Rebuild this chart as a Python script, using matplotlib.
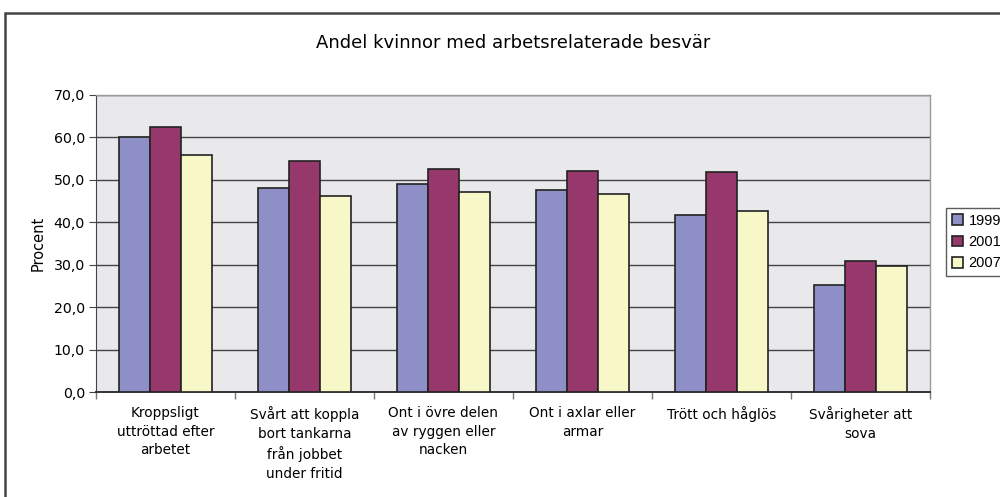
"""
Grouped bars: share of women with work-related complaints, 1999/2001/2007.
"""

import matplotlib.pyplot as plt
import numpy as np
from matplotlib.patches import Rectangle
from matplotlib.ticker import FuncFormatter, MultipleLocator

plt.rcParams["font.family"] = ["DejaVu Sans"]

CATEGORIES = [
    "Kroppsligt\nuttröttad efter\narbetet",
    "Svårt att koppla\nbort tankarna\nfrån jobbet\nunder fritid",
    "Ont i övre delen\nav ryggen eller\nnacken",
    "Ont i axlar eller\narmar",
    "Trött och håglös",
    "Svårigheter att\nsova",
]
YEARS = ["1999", "2001", "2007"]
VALUES_1999 = [60.0, 48.0, 49.0, 47.6, 41.8, 25.2]
VALUES_2001 = [62.4, 54.5, 52.5, 52.1, 51.8, 31.0]
VALUES_2007 = [55.8, 46.2, 47.1, 46.7, 42.7, 29.7]
COLORS = ["#8F8FC7", "#96386B", "#F8F7C8"]


def main() -> None:
    fig = plt.figure(figsize=(10, 4.97), dpi=100)
    ax = fig.add_axes([0.096, 0.211, 0.834, 0.598])

    # outer chart frame, cut off on right and bottom like the source
    fig.patches.append(
        Rectangle((0.005, -0.1), 1.2, 0.1 + 0.974, transform=fig.transFigure,
                  fill=False, edgecolor="#444444", linewidth=1.8)
    )

    x = np.arange(len(CATEGORIES))
    width = 1 / 4.5
    series = [VALUES_1999, VALUES_2001, VALUES_2007]
    for i, (vals, col, yr) in enumerate(zip(series, COLORS, YEARS)):
        ax.bar(x + (i - 1) * width, vals, width=width, color=col,
               edgecolor="#222222", linewidth=1.2, label=yr, zorder=3)

    ax.set_facecolor("#E9E9EB")
    ax.set_xlim(-0.5, len(CATEGORIES) - 0.5)
    ax.set_ylim(0, 70)
    ax.yaxis.set_major_locator(MultipleLocator(10))
    ax.yaxis.set_major_formatter(FuncFormatter(lambda v, _: f"{v:.1f}".replace(".", ",")))
    ax.grid(True, axis="y", color="#444444", linewidth=1.0, zorder=1)

    ax.set_xticks(np.arange(len(CATEGORIES) + 1) - 0.5)
    ax.set_xticklabels([])
    ax.tick_params(axis="x", length=5, color="#777777", width=1)
    ax.tick_params(axis="y", length=5, color="#444444", labelsize=10.2, pad=3)
    for xi, lab in zip(x, CATEGORIES):
        ax.text(xi, -3.3, lab, ha="center", va="top", fontsize=9.8,
                linespacing=1.42, transform=ax.transData)

    for side in ("top", "right"):
        ax.spines[side].set_color("#9A9A9A")
        ax.spines[side].set_linewidth(1.0)
    ax.spines["left"].set_color("#444444")
    ax.spines["bottom"].set_color("#333333")
    ax.spines["bottom"].set_linewidth(1.4)

    ax.set_ylabel("Procent", fontsize=10.5, labelpad=6)
    fig.text(0.513, 0.913, "Andel kvinnor med arbetsrelaterade besvär",
             ha="center", va="center", fontsize=13)

    leg = fig.legend(loc="center left", bbox_to_anchor=(0.946, 0.513),
                     frameon=True, fancybox=False,
                     prop={"family": "Liberation Sans", "size": 10.5},
                     handlelength=0.75, handleheight=0.75, handletextpad=0.4,
                     labelspacing=0.5, borderpad=0.4, borderaxespad=0.0)
    leg.get_frame().set_edgecolor("#333333")
    leg.get_frame().set_linewidth(1.0)

    fig.savefig("out.png", dpi=100)
    plt.close(fig)


if __name__ == "__main__":
    main()
